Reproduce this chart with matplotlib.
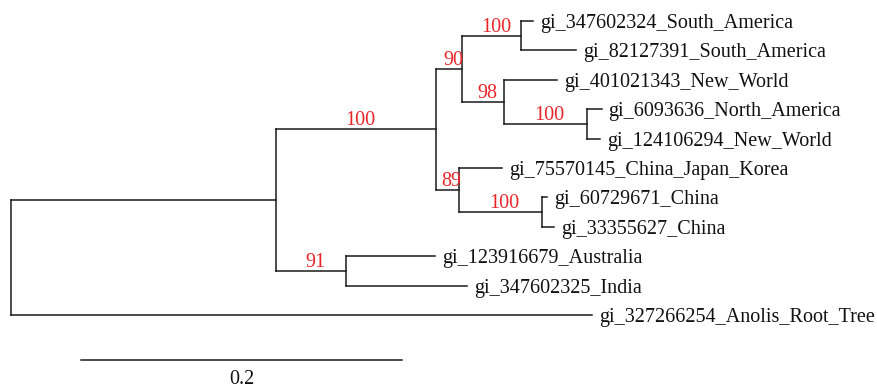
import matplotlib.pyplot as plt

plt.rcParams['font.family'] = ['Liberation Serif', 'DejaVu Serif']

# tree: node, parent, branch length, bootstrap support
nodes = ['root', 'n1', 'n2', 'n3', 'n4',
         'gi_347602324_South_America', 'gi_82127391_South_America',
         'n5', 'gi_401021343_New_World', 'n6',
         'gi_6093636_North_America', 'gi_124106294_New_World',
         'n7', 'gi_75570145_China_Japan_Korea', 'n8',
         'gi_60729671_China', 'gi_33355627_China',
         'n9', 'gi_123916679_Australia', 'gi_347602325_India',
         'gi_327266254_Anolis_Root_Tree']
parents = [None, 'root', 'n1', 'n2', 'n3', 'n4', 'n4', 'n3', 'n5', 'n5',
           'n6', 'n6', 'n2', 'n7', 'n7', 'n8', 'n8', 'n1', 'n9', 'n9', 'root']
lengths = [0.0, 0.165, 0.100, 0.016, 0.037, 0.0075, 0.034, 0.026, 0.033,
           0.052, 0.009, 0.008, 0.014, 0.027, 0.052, 0.003, 0.0075, 0.044,
           0.055, 0.075, 0.362]
support = [None, None, 100, 90, 100, None, None, 98, None, 100, None, None,
           89, None, 100, None, None, 91, None, None, None]

scale_len = 0.2

# layout
xpos = {}
for n, p, bl in zip(nodes, parents, lengths):
    xpos[n] = bl if p is None else xpos[p] + bl

children = {n: [c for c, p in zip(nodes, parents) if p == n] for n in nodes}
ypos = {}
k = 0
for n in nodes:
    if not children[n]:
        ypos[n] = k
        k += 1
for n in reversed(nodes):
    if children[n]:
        ypos[n] = sum(ypos[c] for c in children[n]) / len(children[n])

fig = plt.figure(figsize=(8.77, 3.87), dpi=100)
ax = fig.add_axes([0, 0, 1, 1])
lc = '#1a1a1a'
lw = 1.1
fs = 14.5

for n, p, s in zip(nodes, parents, support):
    if children[n]:
        ys = [ypos[c] for c in children[n]]
        ax.plot([xpos[n], xpos[n]], [min(ys), max(ys)], color=lc, lw=lw,
                solid_capstyle='projecting')
    else:
        ax.annotate(n, (xpos[n], ypos[n]), xytext=(5, 0),
                    textcoords='offset points', fontsize=fs,
                    va='center_baseline', ha='left', color='#111111')
    if p is not None:
        ax.plot([xpos[p], xpos[n]], [ypos[n], ypos[n]], color=lc, lw=lw,
                solid_capstyle='projecting')
    if s is not None:
        ax.annotate(str(s), ((xpos[p] + xpos[n]) / 2, ypos[n]),
                    xytext=(3, 3), textcoords='offset points',
                    ha='center', va='baseline', fontsize=fs,
                    color='#e8262a')

# scale bar
x0 = 0.0436
ax.plot([x0, x0 + scale_len], [11.53, 11.53], color=lc, lw=lw)
ax.annotate(str(scale_len), (x0 + scale_len / 2, 11.53), xytext=(0, -7),
            textcoords='offset points', ha='center', va='top', fontsize=fs,
            color='#111111')

ax.set_xlim(-11 / 1605, 866 / 1605)
ax.set_ylim((387 - 21) / 29.4, -21 / 29.4)
ax.axis('off')

fig.savefig('out.png', dpi=100)
